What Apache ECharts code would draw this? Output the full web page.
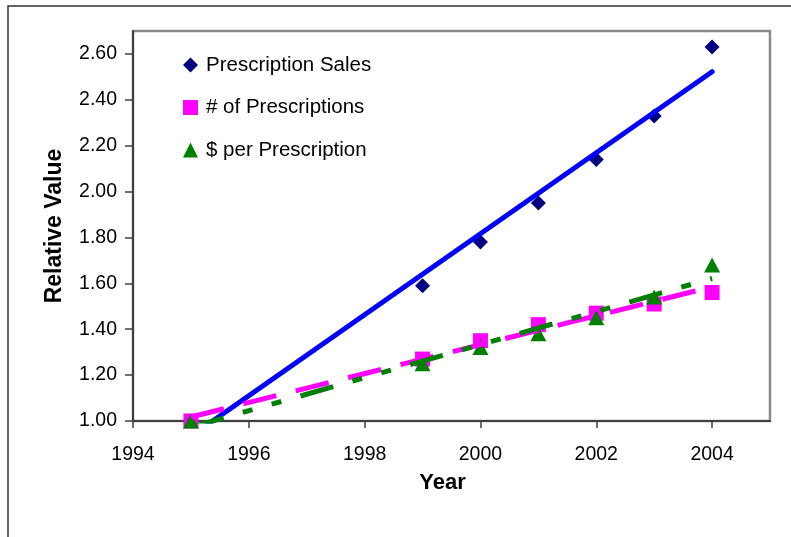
<!DOCTYPE html>
<html>
<head>
<meta charset="utf-8">
<script src="https://cdn.jsdelivr.net/npm/echarts@6/dist/echarts.min.js"></script>
<style>
  html, body { margin: 0; padding: 0; background: #fff; }
  #chart { width: 791px; height: 537px; }
</style>
</head>
<body>
<div id="chart"></div>
<script>
// Observed years and relative values (1995 = 1.00)
const years = [1995, 1999, 2000, 2001, 2002, 2003, 2004];
const salesValues = [1.00, 1.59, 1.78, 1.95, 2.14, 2.33, 2.63];
const countValues = [1.00, 1.27, 1.35, 1.42, 1.47, 1.51, 1.56];
const priceValues = [1.00, 1.25, 1.32, 1.38, 1.45, 1.54, 1.68];

const seriesNames = ['Prescription Sales', '# of Prescriptions', '$ per Prescription'];

// Axis tick positions and labels
const xTicks = [1994, 1996, 1998, 2000, 2002, 2004];
const yTicks = [1.0, 1.2, 1.4, 1.6, 1.8, 2.0, 2.2, 2.4, 2.6];

const FONT = '"Liberation Sans", Arial, sans-serif';

// Least-squares linear trendline across the observed range
function linearTrend(xs, ys) {
  const n = xs.length;
  const mx = xs.reduce((a, b) => a + b, 0) / n;
  const my = ys.reduce((a, b) => a + b, 0) / n;
  let sxy = 0, sxx = 0;
  for (let i = 0; i < n; i++) {
    sxy += (xs[i] - mx) * (ys[i] - my);
    sxx += (xs[i] - mx) * (xs[i] - mx);
  }
  const slope = sxy / sxx;
  const x0 = xs[0], x1 = xs[n - 1];
  return [[x0, my + slope * (x0 - mx)], [x1, my + slope * (x1 - mx)]];
}

function pairs(xs, ys) { return xs.map((x, i) => [x, ys[i]]); }

const chart = echarts.init(document.getElementById('chart'), null, { renderer: 'canvas' });

chart.setOption({
  animation: false,
  backgroundColor: '#fff',
  textStyle: { fontFamily: FONT, color: '#000' },
  graphic: [{
    type: 'rect',
    shape: { x: 8, y: 6, width: 820, height: 600 },
    style: { fill: 'none', stroke: '#333', lineWidth: 1.5 },
    silent: true,
    z: -10
  }],
  grid: {
    left: 133, right: 21, top: 31, bottom: 116,
    show: true, borderColor: '#8a8a8a', borderWidth: 2.5, backgroundColor: '#fff'
  },
  legend: {
    data: seriesNames,
    orient: 'vertical',
    left: 178, top: 49,
    itemWidth: 15, itemHeight: 15,
    itemGap: 20.5,
    selectedMode: false,
    textStyle: { fontFamily: FONT, fontSize: 20.5, color: '#000', lineHeight: 22, padding: [0, 0, 0, 3] }
  },
  xAxis: {
    type: 'value',
    min: 1994, max: 2005, interval: 2,
    name: 'Year',
    nameLocation: 'middle',
    nameGap: 51,
    nameTextStyle: { fontFamily: FONT, fontSize: 22, fontWeight: 'bold', color: '#000', padding: [0, 18, 0, 0] },
    axisLine: { lineStyle: { color: '#404040', width: 2 } },
    axisTick: { show: true, length: 7, customValues: xTicks, lineStyle: { color: '#404040', width: 1.5 } },
    axisLabel: {
      customValues: xTicks,
      margin: 24,
      fontFamily: FONT, fontSize: 19.5, color: '#000',
      formatter: v => String(v)
    },
    splitLine: { show: false }
  },
  yAxis: {
    type: 'value',
    min: 1, max: 2.7, interval: 0.2,
    name: 'Relative Value',
    nameLocation: 'middle',
    nameRotate: 90,
    nameGap: 67,
    nameTextStyle: { fontFamily: FONT, fontSize: 23, fontWeight: 'bold', color: '#000' },
    axisLine: { show: true, lineStyle: { color: '#404040', width: 2 } },
    axisTick: { show: true, length: 8, customValues: yTicks, lineStyle: { color: '#404040', width: 1.5 } },
    axisLabel: {
      customValues: yTicks,
      margin: 16,
      fontFamily: FONT, fontSize: 19.5, color: '#000',
      formatter: v => v.toFixed(2)
    },
    splitLine: { show: false }
  },
  series: [
    {
      name: seriesNames[0], type: 'scatter', symbol: 'diamond', symbolSize: 15,
      itemStyle: { color: '#000080', opacity: 1 }, data: pairs(years, salesValues), z: 2
    },
    {
      name: seriesNames[1], type: 'scatter', symbol: 'rect', symbolSize: 15,
      itemStyle: { color: '#FF00FF', opacity: 1 }, data: pairs(years, countValues), z: 2
    },
    {
      name: seriesNames[2], type: 'scatter', symbol: 'triangle', symbolSize: [16, 15],
      itemStyle: { color: '#008000', opacity: 1 }, data: pairs(years, priceValues), z: 2
    },
    {
      name: 'sales-trend', type: 'line', showSymbol: false, clip: true, silent: true,
      lineStyle: { color: '#0000FF', width: 5, cap: 'round' },
      data: linearTrend(years, salesValues), z: 3
    },
    {
      name: 'count-trend', type: 'line', showSymbol: false, clip: true, silent: true,
      lineStyle: { color: '#FF00FF', width: 5, type: [34, 20] },
      data: linearTrend(years, countValues), z: 4
    },
    {
      name: 'price-trend', type: 'line', showSymbol: false, clip: true, silent: true,
      lineStyle: { color: '#008000', width: 5, type: [34, 20, 10, 20, 10, 20] },
      data: linearTrend(years, priceValues), z: 5
    }
  ]
});
</script>
</body>
</html>
